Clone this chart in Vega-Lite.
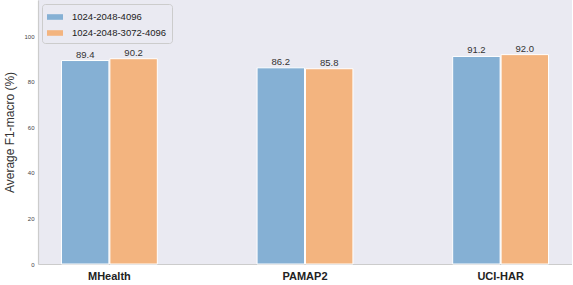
{
  "$schema": "https://vega.github.io/schema/vega-lite/v6.json",
  "width": 534,
  "height": 264,
  "padding": {"left": 3, "top": 0, "right": 0, "bottom": 0},
  "autosize": {"type": "pad"},
  "background": "white",
  "config": {
    "view": {"fill": "#eaeaf2", "stroke": null},
    "font": "Liberation Sans"
  },
  "data": {
    "values": [
      {"dataset": "MHealth", "config": "1024-2048-4096", "f1": 89.4, "label": "89.4"},
      {"dataset": "MHealth", "config": "1024-2048-3072-4096", "f1": 90.2, "label": "90.2"},
      {"dataset": "PAMAP2", "config": "1024-2048-4096", "f1": 86.2, "label": "86.2"},
      {"dataset": "PAMAP2", "config": "1024-2048-3072-4096", "f1": 85.8, "label": "85.8"},
      {"dataset": "UCI-HAR", "config": "1024-2048-4096", "f1": 91.2, "label": "91.2"},
      {"dataset": "UCI-HAR", "config": "1024-2048-3072-4096", "f1": 92.0, "label": "92.0"}
    ]
  },
  "encoding": {
    "x": {
      "field": "dataset", "type": "nominal", "sort": ["MHealth", "PAMAP2", "UCI-HAR"],
      "scale": {"paddingInner": 0.51, "paddingOuter": 0.12},
      "axis": {"title": null, "labelAngle": 0, "labelFontWeight": "bold", "labelFontSize": 11, "labelColor": "#222222", "ticks": false, "labelPadding": 6, "domainColor": "#cccccc", "domainWidth": 1.2}
    },
    "xOffset": {
      "field": "config", "type": "nominal", "sort": ["1024-2048-4096", "1024-2048-3072-4096"],
      "scale": {"paddingInner": 0.02}
    },
    "y": {
      "field": "f1", "type": "quantitative",
      "scale": {"domain": [0, 116], "nice": false},
      "axis": {"title": "Average F1-macro (%)", "titleFontSize": 12, "titleFontWeight": "normal", "titleColor": "#333333", "labelFontSize": 6, "labelColor": "#444444", "values": [0, 20, 40, 60, 80, 100], "ticks": false, "grid": false, "labelPadding": 4, "titlePadding": 7, "domainColor": "#cccccc", "domainWidth": 1.2}
    }
  },
  "layer": [
    {
      "mark": {"type": "bar", "stroke": "white", "strokeWidth": 1},
      "encoding": {
        "color": {
          "field": "config", "type": "nominal",
          "sort": ["1024-2048-4096", "1024-2048-3072-4096"],
          "scale": {"domain": ["1024-2048-4096", "1024-2048-3072-4096"], "range": ["#85b0d4", "#f3b47f"]},
          "legend": {"title": null, "orient": "top-left", "offset": 4, "labelFontSize": 9.5, "labelColor": "#222222", "symbolType": "M-1,-0.35H1V0.35H-1Z", "symbolSize": 256, "symbolStrokeWidth": 0, "fillColor": "#eaeaf2", "strokeColor": "#cccccc", "padding": 5, "rowPadding": 3, "labelOffset": 9, "cornerRadius": 3}
        }
      }
    },
    {
      "mark": {"type": "text", "dy": -6, "fontSize": 9.5, "color": "#333333"},
      "encoding": {"text": {"field": "label"}}
    }
  ]
}
